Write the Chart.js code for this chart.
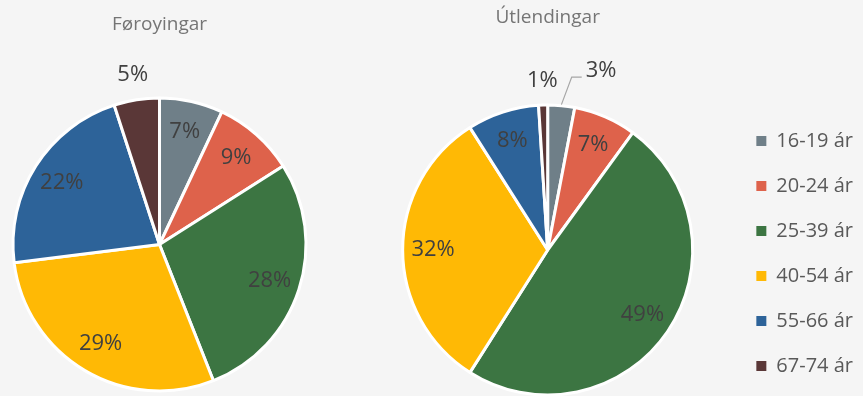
<!DOCTYPE html>
<html lang="fo">
<head>
<meta charset="UTF-8">
<title>Aldursbýti</title>
<script src="https://cdn.jsdelivr.net/npm/chart.js"></script>
<style>
    html, body { margin: 0; padding: 0; background: #f5f5f5; overflow: hidden; }
    #wrap { position: relative; width: 863px; height: 396px; overflow: hidden; }
    canvas { position: absolute; top: 0; }
</style>
</head>
<body>
<div id="wrap">
    <canvas id="pieFo" width="319" height="396" style="left:0"></canvas>
    <canvas id="pieUt" width="499" height="401" style="left:364px"></canvas>
</div>

<script>
    const ageGroups = ['16-19 ár', '20-24 ár', '25-39 ár', '40-54 ár', '55-66 ár', '67-74 ár'];
    const faroeseShare = [7, 9, 28, 29, 22, 5];
    const foreignShare = [3, 7, 49, 32, 8, 1];
    const sliceColors = ['#6F7F88', '#DE624B', '#3C7542', '#FFB905', '#2D6399', '#5A3737'];

    Chart.defaults.font.family = "'Open Sans', sans-serif";

    // percent labels: inside the slice, or outside for the thin ones (with a leader line if they collide)
    const pieLabels = {
        id: 'pieLabels',
        afterDatasetsDraw(chart) {
            const ctx = chart.ctx;
            const meta = chart.getDatasetMeta(0);
            const values = chart.data.datasets[0].data;
            const placed = [];
            ctx.save();
            ctx.font = "22px 'Open Sans'";
            ctx.fillStyle = '#404040';
            ctx.textAlign = 'center';
            ctx.textBaseline = 'middle';
            for (let i = meta.data.length - 1; i >= 0; i--) {
                const p = meta.data[i].getProps(['x', 'y', 'startAngle', 'endAngle', 'outerRadius'], true);
                const mid = (p.startAngle + p.endAngle) / 2;
                const text = values[i] + '%';
                const w = ctx.measureText(text).width;
                if (values[i] >= 6) {
                    const d = p.outerRadius * 0.79;
                    ctx.fillText(text, p.x + Math.cos(mid) * d, p.y + Math.sin(mid) * d);
                    continue;
                }
                const d = p.outerRadius * 1.17;
                let lx = p.x + Math.cos(mid) * d;
                let ly = p.y + Math.sin(mid) * d;
                const hit = placed.find(b => Math.abs(b.x - lx) < (b.w + w) / 2 + 4 && Math.abs(b.y - ly) < 22);
                if (hit) {
                    const dir = lx >= hit.x ? 1 : -1;
                    lx = hit.x + dir * ((hit.w + w) / 2 + 28);
                    ly -= 10;
                    const near = lx - dir * (w / 2 + 4);
                    ctx.beginPath();
                    ctx.moveTo(p.x + Math.cos(mid) * (p.outerRadius + 1), p.y + Math.sin(mid) * (p.outerRadius + 1));
                    ctx.lineTo(near - dir * 10, ly + 6);
                    ctx.lineTo(near, ly + 6);
                    ctx.strokeStyle = '#a6a6a6';
                    ctx.lineWidth = 1.2;
                    ctx.stroke();
                }
                placed.push({ x: lx, y: ly, w: w });
                ctx.fillText(text, lx, ly);
            }
            ctx.restore();
        }
    };

    function pieConfig(values, radius, title, legend) {
        return {
            type: 'pie',
            data: {
                labels: ageGroups,
                datasets: [{
                    data: values,
                    backgroundColor: sliceColors,
                    borderColor: '#ffffff',
                    borderWidth: 3,
                    hoverOffset: 0
                }]
            },
            options: {
                responsive: false,
                animation: false,
                events: [],
                radius: radius,
                layout: { padding: 0 },
                plugins: {
                    title: title,
                    legend: legend,
                    tooltip: { enabled: false }
                }
            },
            plugins: [pieLabels]
        };
    }

    new Chart(document.getElementById('pieFo'), pieConfig(
        faroeseShare, 146.5,
        {
            display: true,
            text: 'Føroyingar',
            color: '#757575',
            font: { size: 19, weight: 'normal' },
            padding: { top: 13.2, bottom: 57 }
        },
        { display: false }
    ));

    const utChart = new Chart(document.getElementById('pieUt'), pieConfig(
        foreignShare, 145,
        {
            display: true,
            fullSize: false,
            text: 'Útlendingar',
            color: '#757575',
            font: { size: 19, weight: 'normal' },
            padding: { top: 6.2, bottom: 70 }
        },
        {
            display: true,
            position: 'right',
            align: 'end',
            labels: {
                color: '#595959',
                font: { size: 20 },
                boxWidth: 10,
                boxHeight: 10,
                padding: 25,
                generateLabels(chart) {
                    return Chart.overrides.pie.plugins.legend.labels.generateLabels(chart)
                        .map(item => Object.assign(item, { lineWidth: 0 }));
                }
            }
        }
    ));

    // keep the plot area of the second pie a fixed width; the legend takes what's left on the right
    const plotWidth = 370.3;
    utChart.options.layout.padding = { right: Math.max(0, utChart.width - utChart.legend.width - plotWidth) };
    utChart.update();
</script>
</body>
</html>
